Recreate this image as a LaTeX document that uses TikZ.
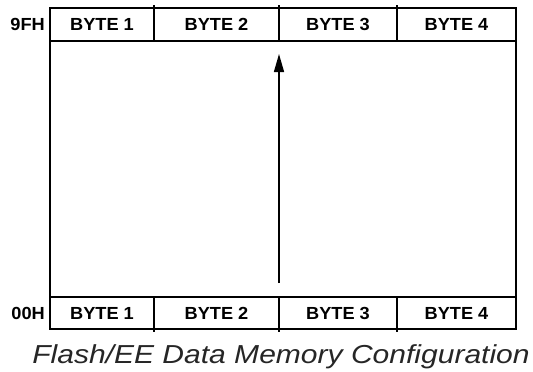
\documentclass[tikz,border=0pt]{standalone}
\usepackage{fontspec}
\setmainfont{Liberation Sans}
\usetikzlibrary{arrows.meta}
\tikzset{
  frame/.style={draw=black, line width=1.4pt},
  cell/.style={inner sep=0pt, font=\fontsize{17.5}{19}\selectfont\bfseries},
  addr/.style={inner sep=0pt, anchor=east, font=\fontsize{17.5}{19}\selectfont\bfseries},
  caption/.style={inner sep=0pt, anchor=base, text=black!85,
    font=\fontsize{26}{30}\selectfont\itshape},
  fillarrow/.style={draw=black, line width=1.4pt,
    -{Triangle[length=18pt,width=10pt]}}
}
\newcommand{\wide}[1]{\scalebox{1.04}[1]{#1}}
\begin{document}
\begin{tikzpicture}[x=1pt,y=-1pt]
  \useasboundingbox (0,0) rectangle (533,372);
  % memory block outline and the two row separators
  \draw[frame] (50,8) rectangle (516,329);
  \draw[frame] (50,41) -- (516,41);
  \draw[frame] (50,297) -- (516,297);
  % byte dividers, slightly overshooting the outline
  \foreach \x in {154,279,397} {
    \draw[frame] (\x,5) -- (\x,41);
    \draw[frame] (\x,297) -- (\x,332);
  }
  % top row (address 9FH)
  \node[addr] (hi)  at (45,24.5) {\wide{9FH}};
  \node[cell] (t1) at (102,24.5)   {\wide{BYTE 1}};
  \node[cell] (t2) at (216.5,24.5) {\wide{BYTE 2}};
  \node[cell] (t3) at (338,24.5)   {\wide{BYTE 3}};
  \node[cell] (t4) at (456.5,24.5) {\wide{BYTE 4}};
  % bottom row (address 00H)
  \node[addr] (lo)  at (45,313) {\wide{00H}};
  \node[cell] (b1) at (102,313)   {\wide{BYTE 1}};
  \node[cell] (b2) at (216.5,313) {\wide{BYTE 2}};
  \node[cell] (b3) at (338,313)   {\wide{BYTE 3}};
  \node[cell] (b4) at (456.5,313) {\wide{BYTE 4}};
  % growth direction of the data memory
  \coordinate (from) at (279,283);
  \coordinate (to)   at (279,54);
  \draw[fillarrow] (from) -- (to);
  % caption
  \node[caption] (cap) at (281,363)
    {\scalebox{1.155}[1]{Flash/EE Data Memory Configuration}};
\end{tikzpicture}
\end{document}
